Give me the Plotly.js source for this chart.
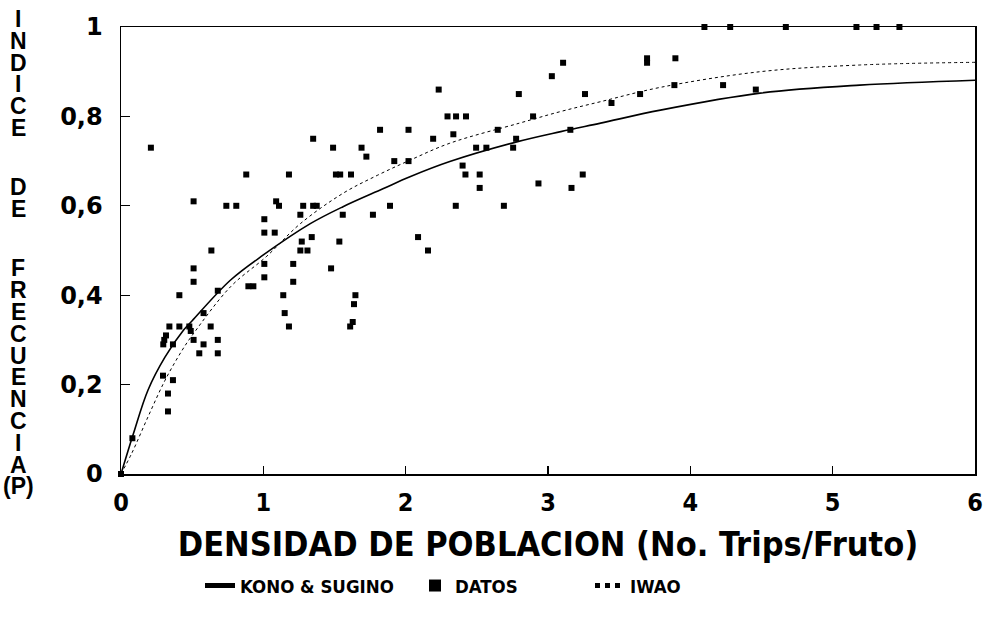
<!DOCTYPE html>
<html>
<head>
<meta charset="utf-8">
<script src="https://cdn.plot.ly/plotly-3.0.1.min.js"></script>
<style>html,body{margin:0;padding:0;background:#fff;}#chart{width:996px;height:626px;}</style>
</head>
<body>
<div id="chart"></div>
<script>
// Observed data (DATOS)
const datosX = [0,0.08,0.21,0.295,0.33,0.33,0.365,0.297,0.304,0.316,0.34,0.41,0.365,0.41,0.48,0.49,0.51,0.51,0.51,0.51,
  0.55,0.58,0.58,0.63,0.635,0.68,0.68,0.68,0.74,0.81,0.88,0.895,0.93,1.007,1.007,1.007,1.007,1.08,1.09,1.11,
  1.14,1.15,1.18,1.18,1.21,1.21,1.26,1.27,1.26,1.31,1.28,1.35,1.375,1.34,1.35,1.476,1.49,1.51,1.54,1.534,
  1.558,1.616,1.61,1.628,1.637,1.647,1.69,1.724,1.77,1.82,1.89,1.92,2.02,2.02,2.087,2.157,2.193,2.232,2.294,2.335,
  2.352,2.354,2.40,2.42,2.424,2.495,2.52,2.52,2.567,2.647,2.69,2.755,2.776,2.795,2.895,2.933,3.027,3.106,3.157,3.165,
  3.244,3.26,3.446,3.647,3.696,3.696,3.888,3.895,4.099,4.23,4.28,4.46,4.671,5.167,5.308,5.469];
const datosY = [0,0.08,0.73,0.22,0.18,0.14,0.21,0.29,0.30,0.31,0.33,0.33,0.29,0.40,0.33,0.32,0.30,0.43,0.46,0.61,
  0.27,0.29,0.36,0.33,0.50,0.30,0.27,0.41,0.60,0.60,0.67,0.42,0.42,0.57,0.54,0.47,0.44,0.54,0.61,0.60,
  0.40,0.36,0.33,0.67,0.47,0.43,0.58,0.52,0.50,0.50,0.60,0.60,0.60,0.53,0.75,0.46,0.73,0.67,0.67,0.52,
  0.58,0.67,0.33,0.34,0.38,0.40,0.73,0.71,0.58,0.77,0.60,0.70,0.70,0.77,0.53,0.50,0.75,0.86,0.80,0.76,
  0.60,0.80,0.69,0.67,0.80,0.73,0.67,0.64,0.73,0.77,0.60,0.73,0.75,0.85,0.80,0.65,0.89,0.92,0.77,0.64,
  0.67,0.85,0.83,0.85,0.93,0.92,0.87,0.93,1,0.87,1,0.86,1,1,1,1];

// KONO & SUGINO fitted curve
const konoX = [0,0.087,0.19,0.31,0.44,0.5,0.77,1.0,1.33,1.56,1.84,2.03,2.31,2.78,3.09,3.37,3.79,4.49,5.19,6.0];
const konoY = [0,0.09,0.188,0.262,0.322,0.343,0.434,0.49,0.56,0.598,0.638,0.665,0.699,0.743,0.766,0.785,0.814,0.852,0.870,0.881];

// IWAO fitted curve
const iwaoX = [0,0.075,0.19,0.31,0.43,0.5,0.77,1.02,1.26,1.56,1.8,2.03,2.31,2.8,3.09,3.37,3.79,4.49,5.19,6.0];
const iwaoY = [0,0.046,0.128,0.21,0.277,0.31,0.419,0.486,0.56,0.628,0.668,0.702,0.74,0.785,0.811,0.833,0.865,0.90,0.915,0.921];

const xTicks = [0,1,2,3,4,5,6];
const yTicks = [0,0.2,0.4,0.6,0.8,1];
const yTitleWords = ["INDICE","DE","FRECUENCIA"];

const L = 121, R = 975, T = 27, B = 474;
const px2x = p => (p - L) / (R - L);
const py2y = p => (B - p) / (B - T);
const narrow = 'DejaVu Sans Condensed, Liberation Sans Narrow, sans-serif';

const traces = [
  {x: konoX, y: konoY, type: 'scatter', mode: 'lines', name: 'KONO & SUGINO',
   line: {color: '#000', width: 1.6, shape: 'spline', smoothing: 1}, legendwidth: 170},
  {x: datosX, y: datosY, type: 'scatter', mode: 'markers', name: 'DATOS', cliponaxis: false,
   marker: {symbol: 'square', size: 6, color: '#000'}, legendwidth: 130},
  {x: iwaoX, y: iwaoY, type: 'scatter', mode: 'lines', name: 'IWAO',
   line: {color: '#000', width: 1, dash: 'dot', shape: 'spline', smoothing: 1}}
];

// vertical stacked y-axis title
const annotations = [];
let idx = 0;
yTitleWords.forEach((w, g) => {
  const letters = w.split('');
  if (g === yTitleWords.length - 1) letters.push('(P)');
  letters.forEach(ch => {
    const py = 19 + idx * 21.8 + g * 37.5;
    annotations.push({xref: 'paper', yref: 'paper', x: px2x(18), y: py2y(py),
      text: ch, showarrow: false, xanchor: 'center', yanchor: 'middle',
      font: {family: 'Liberation Sans, Arial, sans-serif', size: 23, color: '#000', weight: 'bold'}});
    idx++;
  });
});

const layout = {
  width: 996, height: 626,
  margin: {l: L, r: 996 - R, t: T, b: 626 - B},
  paper_bgcolor: '#fff', plot_bgcolor: '#fff',
  separators: ',.',
  showlegend: true,
  legend: {orientation: 'h', x: px2x(200), xanchor: 'left', y: py2y(567), yanchor: 'top',
    font: {family: narrow, size: 18.5, color: '#000', weight: 'bold'},
    itemsizing: 'constant', bgcolor: 'rgba(0,0,0,0)'},
  xaxis: {range: [0, 6], tickvals: xTicks, ticktext: xTicks.map(String), ticks: 'inside', ticklen: 8, tickwidth: 1.2,
    tickcolor: '#000', showline: true, linecolor: '#000', linewidth: 1.5, mirror: true, showgrid: false, zeroline: false,
    ticklabelstandoff: 5,
    tickfont: {family: narrow, size: 25, color: '#000', weight: 'bold'},
    title: {text: 'DENSIDAD DE POBLACION (No. Trips/Fruto)', standoff: 16,
      font: {family: narrow, size: 34, color: '#000', weight: 'bold'}}},
  yaxis: {range: [0, 1], tickvals: yTicks, ticks: 'inside', ticklen: 9, tickwidth: 1.2, tickformat: '.1~f',
    tickcolor: '#000', showline: true, linecolor: '#000', linewidth: 1.5, mirror: true, showgrid: false, zeroline: false,
    ticklabelstandoff: 12,
    tickfont: {family: 'DejaVu Sans, sans-serif', size: 24, color: '#000', weight: 'bold'}},
  annotations: annotations
};

Plotly.newPlot('chart', traces, layout, {displayModeBar: false, staticPlot: true});
</script>
</body>
</html>
